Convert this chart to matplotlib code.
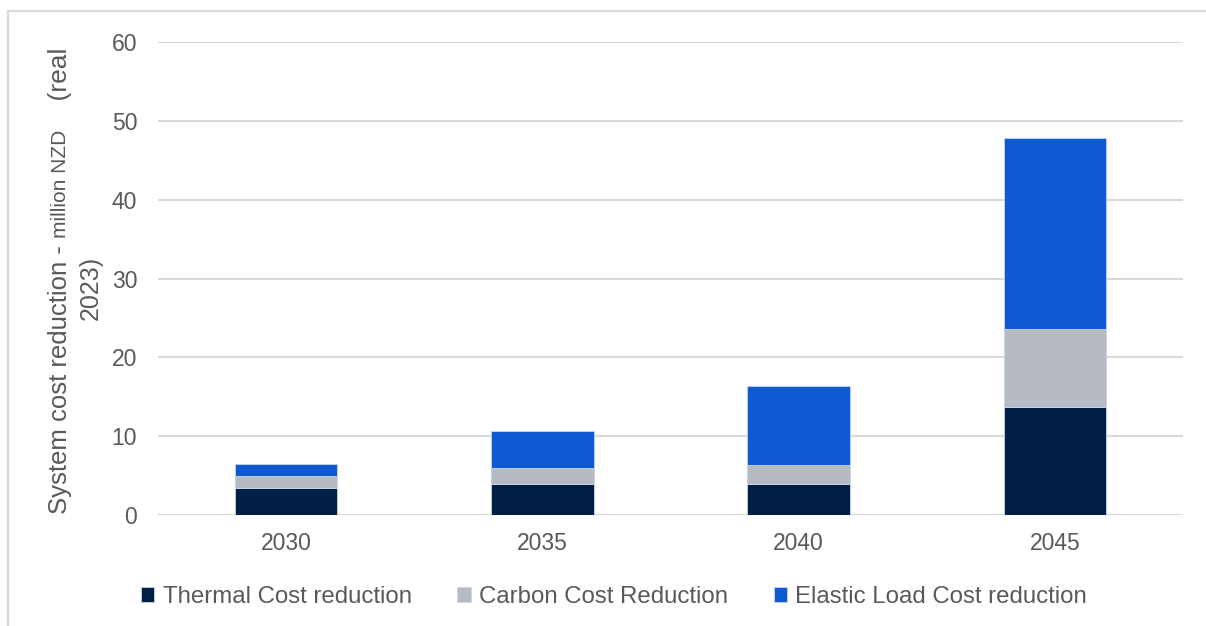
import matplotlib
matplotlib.use("Agg")
import matplotlib.pyplot as plt
from matplotlib.patches import Rectangle
import numpy as np

plt.rcParams['font.family'] = ['Liberation Sans', 'DejaVu Sans']

years = ['2030', '2035', '2040', '2045']
thermal = [3.4, 3.9, 3.9, 13.7]
carbon = [1.6, 2.1, 2.4, 9.9]
elastic = [1.5, 4.6, 10.1, 24.2]
series_names = ['Thermal Cost reduction', 'Carbon Cost Reduction', 'Elastic Load Cost reduction']
colors = ['#001F45', '#B6BAC2', '#0F5AD3']
text_color = '#595959'

W, H = 1206, 626
fig = plt.figure(figsize=(W / 100, H / 100), dpi=100)
ax = fig.add_axes([158 / W, 1 - 515 / H, (1183 - 158) / W, (515 - 42) / H])

x = np.arange(len(years))
bottom = np.zeros(len(years))
for vals, name, col in zip([thermal, carbon, elastic], series_names, colors):
    ax.bar(x, vals, width=0.4, bottom=bottom, color=col, label=name,
           edgecolor='#c9d4e8', linewidth=0.6, zorder=3)
    bottom += np.array(vals)

ax.set_xlim(-0.5, len(years) - 0.5)
ax.set_ylim(0, 60)
ax.set_yticks(range(0, 61, 10))
ax.set_xticks(x)
ax.set_xticklabels(years)
ax.grid(axis='y', color='#d9d9d9', linewidth=1.5, zorder=0)
for s in ax.spines.values():
    s.set_visible(False)
ax.tick_params(length=0, labelsize=16.5, labelcolor=text_color)
ax.tick_params(axis='y', pad=15)
ax.tick_params(axis='x', pad=12)

# y label built from pieces of different size, stacked bottom to top
renderer = fig.canvas.get_renderer()
pieces = [('System cost reduction - ', 18.5), ('million NZD', 15), ('    (real', 19)]
ypos = 1 - 514 / H
for txt, size in pieces:
    t = fig.text(60 / W, ypos, txt, rotation=90, rotation_mode='anchor',
                 ha='left', va='center', fontsize=size, color=text_color)
    bb = t.get_window_extent(renderer)
    ypos += bb.height / H
fig.text(91 / W, 1 - 288 / H, '2023)', rotation=90, ha='center', va='center',
         fontsize=18, color=text_color)

handles, labels = ax.get_legend_handles_labels()
fig.legend(handles, labels, loc='center', bbox_to_anchor=(614 / W, 1 - 597 / H),
           ncol=3, frameon=False, fontsize=17.3, labelcolor=text_color,
           handlelength=0.55, handleheight=0.55, handletextpad=0.35,
           columnspacing=1.9)

# outer frame
fig.patches.append(Rectangle((8 / W, -0.1), 1.2, 1.1 - 11 / H + 0.0,
                             transform=fig.transFigure, fill=False,
                             edgecolor='#d9d9d9', linewidth=1.5))

fig.savefig('out.png', dpi=100)
